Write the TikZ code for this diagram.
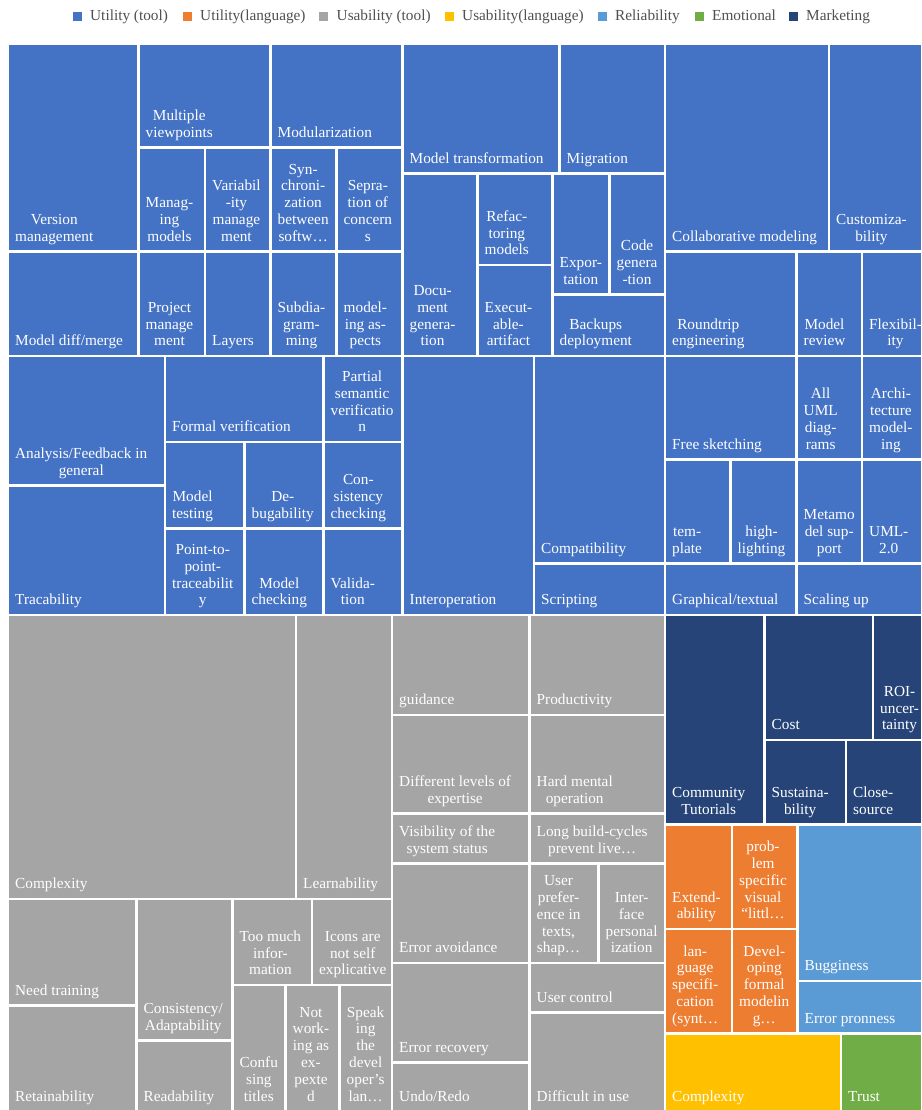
\documentclass[tikz,border=0pt]{standalone}
\usepackage{fontspec}
\setmainfont{Liberation Serif}
\definecolor{util}{HTML}{4472C4}
\definecolor{ulang}{HTML}{ED7D31}
\definecolor{usab}{HTML}{A5A5A5}
\definecolor{uslang}{HTML}{FFC000}
\definecolor{relia}{HTML}{5B9BD5}
\definecolor{emot}{HTML}{70AD47}
\definecolor{mkt}{HTML}{264478}
\definecolor{leggray}{HTML}{505050}
\tikzset{
  cellbox/.style={draw=white, line width=2.5pt},
  celltext/.style={anchor=south west, inner sep=0pt, align=center, text=white,
    font=\fontsize{15.3}{16.8}\selectfont, text depth=4pt},
  legtext/.style={anchor=base west, inner sep=0pt, text=leggray,
    font=\fontsize{15.3}{18}\selectfont},
  legsq/.style={draw=none, minimum size=9pt, inner sep=0pt}
}
\newcommand\tmcell[7]{%
  \path[cellbox, fill=#6] (#2,#3) rectangle (#4,#5);
  \node[celltext] (#1) at ({#2+7},{#5-6}) {#7};
}
\begin{document}
\begin{tikzpicture}[x=1pt,y=-1pt]
\useasboundingbox (0,0) rectangle (921,1110);
\fill[white] (0,0) rectangle (921,1110);
% legend
\node[legsq, fill=util]   (sq1) at (77.5,16.5) {};
\node[legtext] (lg1) at (90,21) {Utility (tool)};
\node[legsq, fill=ulang]  (sq2) at (187.5,16.5) {};
\node[legtext] (lg2) at (200,21) {Utility(language)};
\node[legsq, fill=usab]   (sq3) at (323.5,16.5) {};
\node[legtext] (lg3) at (336.5,21) {Usability (tool)};
\node[legsq, fill=uslang] (sq4) at (449.5,16.5) {};
\node[legtext] (lg4) at (462,21) {Usability(language)};
\node[legsq, fill=relia]  (sq5) at (602.5,16.5) {};
\node[legtext] (lg5) at (615,21) {Reliability};
\node[legsq, fill=emot]   (sq6) at (699.5,16.5) {};
\node[legtext] (lg6) at (712,21) {Emotional};
\node[legsq, fill=mkt]    (sq7) at (793.5,16.5) {};
\node[legtext] (lg7) at (806,21) {Marketing};
% ---- Utility (tool) ----
\tmcell{c1}{8}{44}{138.5}{251.5}{util}{Version\\management}
\tmcell{c2}{138.5}{44}{270.5}{147.5}{util}{Multiple\\viewpoints}
\tmcell{c3}{138.5}{147.5}{205}{251.5}{util}{Manag-\\ing\\models}
\tmcell{c4}{205}{147.5}{270.5}{251.5}{util}{Variabil\\-ity\\manage\\ment}
\tmcell{c5}{270.5}{44}{402.5}{147.5}{util}{Modularization}
\tmcell{c6}{270.5}{147.5}{336.5}{251.5}{util}{Syn-\\chroni-\\zation\\between\\softw…}
\tmcell{c7}{336.5}{147.5}{402.5}{251.5}{util}{Sepra-\\tion of\\concern\\s}
\tmcell{c8}{8}{251.5}{138.5}{356}{util}{Model diff/merge}
\tmcell{c9}{138.5}{251.5}{205}{356}{util}{Project\\manage\\ment}
\tmcell{c10}{205}{251.5}{270.5}{356}{util}{Layers}
\tmcell{c11}{270.5}{251.5}{336.5}{356}{util}{Subdia-\\gram-\\ming}
\tmcell{c12}{336.5}{251.5}{402.5}{356}{util}{model-\\ing as-\\pects}
\tmcell{c13}{402.5}{44}{559.5}{173.5}{util}{Model transformation}
\tmcell{c14}{559.5}{44}{665}{173.5}{util}{Migration}
\tmcell{c15}{402.5}{173.5}{477.5}{356}{util}{Docu-\\ment\\genera-\\tion}
\tmcell{c16}{477.5}{173.5}{552.5}{265}{util}{Refac-\\toring\\models}
\tmcell{c17}{477.5}{265}{552.5}{356}{util}{Execut-\\able-\\artifact}
\tmcell{c18}{552.5}{173.5}{609.5}{294.5}{util}{Expor-\\tation}
\tmcell{c19}{609.5}{173.5}{665}{294.5}{util}{Code\\genera\\-tion}
\tmcell{c20}{552.5}{294.5}{665}{356}{util}{Backups\\deployment}
\tmcell{c21}{665}{44}{829}{251.5}{util}{Collaborative modeling}
\tmcell{c22}{829}{44}{922.3}{251.5}{util}{Customiza-\\bility}
\tmcell{c23}{665}{251.5}{796.5}{356}{util}{Roundtrip\\engineering}
\tmcell{c24}{796.5}{251.5}{862}{356}{util}{Model\\review}
\tmcell{c25}{862}{251.5}{922.3}{356}{util}{Flexibil-\\ity}
\tmcell{c26}{8}{356}{165}{485.5}{util}{Analysis/Feedback in\\general}
\tmcell{c27}{8}{485.5}{165}{615}{util}{Tracability}
\tmcell{c28}{165}{356}{323.5}{442}{util}{Formal verification}
\tmcell{c29}{323.5}{356}{402.5}{442}{util}{Partial\\semantic\\verificatio\\n}
\tmcell{c30}{165}{442}{244.5}{528.5}{util}{Model\\testing}
\tmcell{c31}{244.5}{442}{323.5}{528.5}{util}{De-\\bugability}
\tmcell{c32}{323.5}{442}{402.5}{528.5}{util}{Con-\\sistency\\checking}
\tmcell{c33}{165}{528.5}{244.5}{615}{util}{Point-to-\\point-\\traceabilit\\y}
\tmcell{c34}{244.5}{528.5}{323.5}{615}{util}{Model\\checking}
\tmcell{c35}{323.5}{528.5}{402.5}{615}{util}{Valida-\\tion}
\tmcell{c36}{402.5}{356}{534}{615}{util}{Interoperation}
\tmcell{c37}{534}{356}{665}{563.5}{util}{Compatibility}
\tmcell{c38}{534}{563.5}{665}{615}{util}{Scripting}
\tmcell{c39}{665}{356}{796.5}{459.5}{util}{Free sketching}
\tmcell{c40}{665}{459.5}{730.5}{563.5}{util}{tem-\\plate}
\tmcell{c41}{730.5}{459.5}{796.5}{563.5}{util}{high-\\lighting}
\tmcell{c42}{796.5}{356}{862}{459.5}{util}{All\\UML\\diag-\\rams}
\tmcell{c43}{862}{356}{922.3}{459.5}{util}{Archi-\\tecture\\model-\\ing}
\tmcell{c44}{796.5}{459.5}{862}{563.5}{util}{Metamo\\del sup-\\port}
\tmcell{c45}{862}{459.5}{922.3}{563.5}{util}{UML-\\2.0}
\tmcell{c46}{665}{563.5}{796.5}{615}{util}{Graphical/textual}
\tmcell{c47}{796.5}{563.5}{922.3}{615}{util}{Scaling up}
% ---- Usability (tool) ----
\tmcell{g1}{8}{615}{296}{899}{usab}{Complexity}
\tmcell{g2}{296}{615}{392}{899}{usab}{Learnability}
\tmcell{g3}{8}{899}{136.5}{1005.5}{usab}{Need training}
\tmcell{g4}{8}{1005.5}{136.5}{1111.3}{usab}{Retainability}
\tmcell{g5}{136.5}{899}{232.5}{1040.5}{usab}{Consistency/\\Adaptability}
\tmcell{g6}{136.5}{1040.5}{232.5}{1111.3}{usab}{Readability}
\tmcell{g7}{232.5}{899}{312}{985}{usab}{Too much\\infor-\\mation}
\tmcell{g8}{312}{899}{392}{985}{usab}{Icons are\\not self\\explicative}
\tmcell{g9}{232.5}{985}{285.5}{1111.3}{usab}{Confu\\sing\\titles}
\tmcell{g10}{285.5}{985}{339.5}{1111.3}{usab}{Not\\work-\\ing as\\ex-\\pexte\\d}
\tmcell{g11}{339.5}{985}{392}{1111.3}{usab}{Speak\\ing\\the\\devel\\oper’s\\lan…}
\tmcell{g12}{392}{615}{529.5}{715}{usab}{guidance}
\tmcell{g13}{529.5}{615}{665}{715}{usab}{Productivity}
\tmcell{g14}{392}{715}{529.5}{813.5}{usab}{Different levels of\\expertise}
\tmcell{g15}{529.5}{715}{665}{813.5}{usab}{Hard mental\\operation}
\tmcell{g16}{392}{813.5}{529.5}{863.5}{usab}{Visibility of the\\system status}
\tmcell{g17}{529.5}{813.5}{665}{863.5}{usab}{Long build-cycles\\prevent live…}
\tmcell{g18}{392}{863.5}{529.5}{963}{usab}{Error avoidance}
\tmcell{g19}{392}{963}{529.5}{1062.5}{usab}{Error recovery}
\tmcell{g20}{392}{1062.5}{529.5}{1111.3}{usab}{Undo/Redo}
\tmcell{g21}{529.5}{863.5}{598.5}{963}{usab}{User\\prefer-\\ence in\\texts,\\shap…}
\tmcell{g22}{598.5}{863.5}{665}{963}{usab}{Inter-\\face\\personal\\ization}
\tmcell{g23}{529.5}{963}{665}{1012.5}{usab}{User control}
\tmcell{g24}{529.5}{1012.5}{665}{1111.3}{usab}{Difficult in use}
% ---- Marketing ----
\tmcell{m1}{665}{615}{764.5}{824.5}{mkt}{Community\\Tutorials}
\tmcell{m2}{764.5}{615}{873}{740}{mkt}{Cost}
\tmcell{m3}{873}{615}{922.3}{740}{mkt}{ROI-\\uncer-\\tainty}
\tmcell{m4}{764.5}{740}{846}{824.5}{mkt}{Sustaina-\\bility}
\tmcell{m5}{846}{740}{922.3}{824.5}{mkt}{Close-\\source}
% ---- Utility (language) ----
\tmcell{o1}{665}{824.5}{732}{929}{ulang}{Extend-\\ability}
\tmcell{o2}{732}{824.5}{797.5}{929}{ulang}{prob-\\lem\\specific\\visual\\“littl…}
\tmcell{o3}{665}{929}{732}{1033.5}{ulang}{lan-\\guage\\specifi-\\cation\\(synt…}
\tmcell{o4}{732}{929}{797.5}{1033.5}{ulang}{Devel-\\oping\\formal\\modelin\\g…}
% ---- Reliability ----
\tmcell{r1}{797.5}{824.5}{922.3}{981}{relia}{Bugginess}
\tmcell{r2}{797.5}{981}{922.3}{1033.5}{relia}{Error pronness}
% ---- Usability (language) / Emotional ----
\tmcell{y1}{665}{1033.5}{841}{1111.3}{uslang}{Complexity}
\tmcell{e1}{841}{1033.5}{922.3}{1111.3}{emot}{Trust}
\end{tikzpicture}
\end{document}
